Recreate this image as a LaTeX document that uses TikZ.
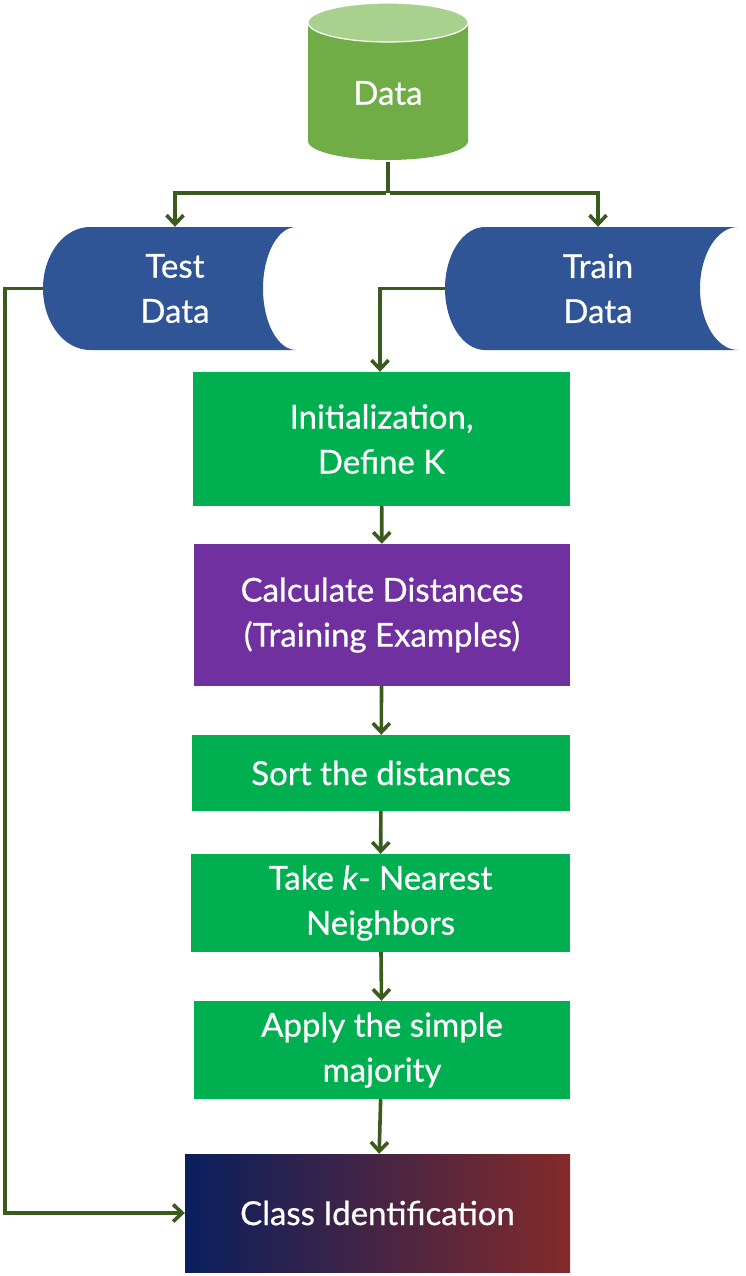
\documentclass[tikz,border=0pt]{standalone}
\usepackage{fontspec}
\setmainfont{Lato}[FakeBold=0.6]
\usetikzlibrary{arrows.meta}
\definecolor{cylbody}{HTML}{70AD47}
\definecolor{cyltop}{HTML}{A9D18E}
\definecolor{storeblue}{HTML}{2F5597}
\definecolor{boxgreen}{HTML}{00B050}
\definecolor{boxpurple}{HTML}{7030A0}
\definecolor{arrowc}{HTML}{3A5A1E}
\definecolor{gradl}{HTML}{0A1F5E}
\definecolor{gradr}{HTML}{832A2A}
\begin{document}
\begin{tikzpicture}[x=1pt,y=-1pt,
  lbl/.style={text=white, align=center, font=\fontsize{33}{45}\selectfont, inner sep=0pt},
  procbox/.style={lbl, minimum width=#1},
  conn/.style={draw=arrowc, line width=3.6pt, -{Straight Barb[length=9pt,width=17pt]}},
  plain/.style={draw=arrowc, line width=3.6pt}]
\useasboundingbox (0,0) rectangle (745,1276);
% cylinder
\fill[cylbody] (308,22.5) -- (308,141) arc[start angle=180, end angle=0, x radius=80, y radius=19] -- (468,22.5) -- cycle;
\fill[cyltop, draw=white, line width=1.2pt] (388,22.5) ellipse[x radius=80, y radius=19.5];
\node[lbl, minimum width=160pt, minimum height=138pt] (data) at (388,93) {Data};
% stored data shapes
\fill[storeblue] (296,227) -- (90,227) arc[start angle=270, end angle=90, x radius=47, y radius=61.5] -- (296,350) arc[start angle=90, end angle=270, x radius=33, y radius=61.5] -- cycle;
\node[lbl, minimum width=264pt, minimum height=123pt] (test) at (175,288.5) {Test\\Data};
\fill[storeblue] (738,227) -- (485,227) arc[start angle=270, end angle=90, x radius=40, y radius=61.5] -- (738,350) arc[start angle=90, end angle=270, x radius=38, y radius=61.5] -- cycle;
\node[lbl, minimum width=306pt, minimum height=123pt] (train) at (598,288.5) {Train\\Data};
% process boxes
\node[procbox=377pt, minimum height=134pt, fill=boxgreen] (init) at (381.5,439) {Initialization,\\Define K};
\node[procbox=376pt, minimum height=142pt, fill=boxpurple] (calc) at (382,615) {Calculate Distances\\(Training Examples)};
\node[procbox=378pt, minimum height=76pt, fill=boxgreen] (sort) at (381,773) {Sort the distances};
\node[procbox=379pt, minimum height=98pt, fill=boxgreen] (take) at (380.5,903) {Take \textit{k}- Nearest\\Neighbors};
\node[procbox=376pt, minimum height=98pt, fill=boxgreen] (apply) at (382,1050) {Apply the simple\\majority};
\node[procbox=385pt, minimum height=118pt, left color=gradl, right color=gradr] (class) at (377.5,1213) {Class Identification};
% connectors
\coordinate (split) at (388,193);
\draw[plain] (data.south) -- (split);
\draw[conn] ([xshift=-1.8pt]split) -| (test.north);
\draw[conn] ([xshift=1.8pt]split) -| (train.north);
\draw[conn] (train.west) -| ([xshift=-1.5pt]init.north);
\draw[conn] (test.west) -- ++(-38,0) |- (class.west);
\draw[conn] (init) -- (calc);
\draw[conn] (calc) -- (sort);
\draw[conn] (sort) -- (take);
\draw[conn] (take) -- (apply);
\draw[conn] (apply) -- (class);
\end{tikzpicture}
\end{document}
